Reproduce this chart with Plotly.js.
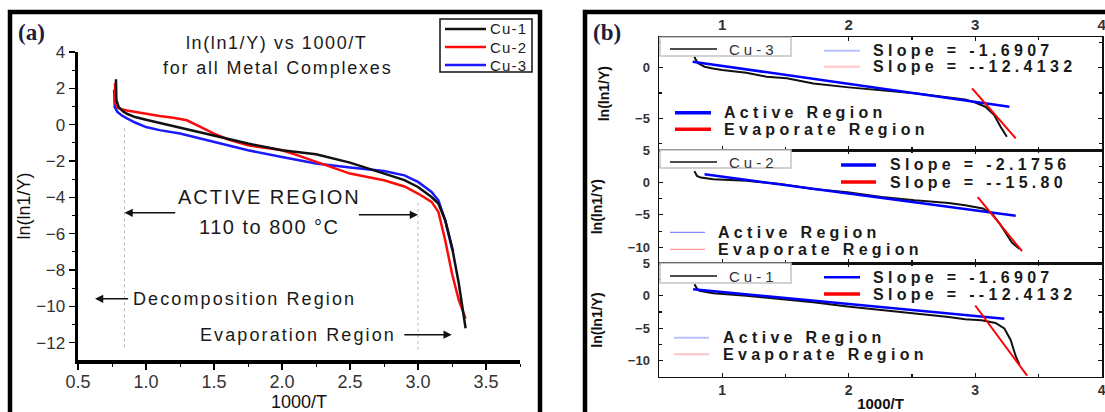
<!DOCTYPE html>
<html><head><meta charset="utf-8">
<script src="https://cdn.plot.ly/plotly-3.0.1.min.js"></script>
<style>html,body{margin:0;padding:0;background:#fff}#chart{width:1105px;height:412px}</style>
</head><body><div id="chart"></div>
<script>
// ---------- Panel (a): ln(ln1/Y) vs 1000/T ----------
const cu1X = [0.779,0.779,0.782,0.80,0.83,0.86,0.92,1.0,1.1,1.25,1.5,1.75,2.0,2.25,2.5,2.75,2.9,3.0,3.1,3.15,3.2,3.25,3.3,3.35];
const cu1Y = [2.5,1.9,1.36,0.95,0.74,0.6,0.42,0.27,0.1,-0.15,-0.59,-1.04,-1.41,-1.63,-2.09,-2.69,-3.05,-3.43,-3.98,-4.34,-5.26,-6.73,-8.74,-11.2];
const cu2X = [0.772,0.772,0.775,0.79,0.82,0.86,0.92,1.0,1.1,1.2,1.3,1.4,1.5,1.6,1.75,1.9,2.0,2.1,2.25,2.5,2.75,2.9,3.0,3.1,3.15,3.2,3.25,3.3,3.35];
const cu2Y = [2.3,1.8,1.17,0.95,0.85,0.78,0.7,0.6,0.48,0.38,0.24,-0.12,-0.49,-0.8,-1.14,-1.3,-1.41,-1.65,-2.05,-2.69,-3.06,-3.4,-3.79,-4.25,-4.8,-6.36,-8.19,-9.66,-10.67];
const cu3X = [0.766,0.766,0.77,0.79,0.82,0.86,0.92,1.0,1.1,1.25,1.5,1.75,2.0,2.25,2.5,2.75,2.9,3.0,3.1,3.15,3.2,3.25,3.26];
const cu3Y = [1.93,1.5,0.97,0.7,0.52,0.35,0.12,-0.13,-0.3,-0.49,-0.95,-1.41,-1.78,-2.14,-2.36,-2.55,-2.79,-3.15,-3.7,-4.16,-5.26,-6.82,-6.95];
const seriesNames = ['Cu-1','Cu-2','Cu-3'];
const regionLimits = [0.842, 3.0];   // dotted region boundaries (1000/T)

// ---------- Panel (b): fitted regions per complex ----------
const bCu3X = [0.78,0.79,0.81,0.86,0.925,1.0,1.19,1.35,1.51,1.72,2.0,2.26,2.52,2.79,2.92,3.0,3.08,3.15,3.2,3.25];
const bCu3Y = [1.09,0.8,0.43,0.1,-0.07,-0.23,-0.49,-0.89,-1.05,-1.55,-1.94,-2.2,-2.53,-2.93,-3.13,-3.45,-3.85,-4.67,-5.82,-6.81];
const bCu3ActX = [0.766,3.27], bCu3ActY = [0.59,-3.85];
const bCu3EvpX = [2.975,3.32], bCu3EvpY = [-2.04,-6.97];

const bCu2X = [0.78,0.80,0.83,0.93,1.19,1.46,1.72,1.99,2.26,2.52,2.79,2.92,3.06,3.13,3.19,3.24,3.29,3.35];
const bCu2Y = [1.75,1.0,0.75,0.5,0.25,-0.25,-1.0,-1.5,-2.25,-2.75,-3.15,-3.5,-4.0,-4.75,-6.25,-7.75,-9.25,-10.25];
const bCu2ActX = [0.86,3.32], bCu2ActY = [1.25,-5.15];
const bCu2EvpX = [3.02,3.37], bCu2EvpY = [-2.25,-10.6];

const bCu1X = [0.78,0.80,0.82,0.93,1.19,1.46,1.72,1.99,2.26,2.52,2.79,2.92,3.05,3.16,3.23,3.28,3.32,3.35];
const bCu1Y = [1.76,1.1,0.76,0.4,0.0,-0.5,-1.0,-1.66,-2.17,-2.67,-3.27,-3.63,-3.78,-4.18,-5.04,-6.8,-9.3,-10.6];
const bCu1ActX = [0.77,3.23], bCu1ActY = [1.0,-3.53];
const bCu1EvpX = [3.0,3.41], bCu1EvpY = [-1.5,-12.3];

const slopeTexts = {cu3:['Slope = -1.6907','Slope = --12.4132'], cu2:['Slope = -2.1756','Slope = --15.80'], cu1:['Slope = -1.6907','Slope = --12.4132']};

// ---------- helpers (pixel -> paper) ----------
const W = 1105, H = 412;
const px = v => v / W, py = v => 1 - v / H;
const SANS = 'Liberation Sans, Arial, sans-serif';
const ls = (t, s) => '<span style="letter-spacing:' + s + 'px">' + t + '</span>';

const traces = [
  {x: cu3X, y: cu3Y, name: seriesNames[2], mode: 'lines', line: {color: '#1a1aff', width: 2.5}, xaxis: 'x', yaxis: 'y', showlegend: false},
  {x: cu2X, y: cu2Y, name: seriesNames[1], mode: 'lines', line: {color: '#ff0a0a', width: 2.5}, xaxis: 'x', yaxis: 'y', showlegend: false},
  {x: cu1X, y: cu1Y, name: seriesNames[0], mode: 'lines', line: {color: '#111', width: 2.5}, xaxis: 'x', yaxis: 'y', showlegend: false},

  {x: bCu3X, y: bCu3Y, mode: 'lines', line: {color: '#111', width: 2}, xaxis: 'x2', yaxis: 'y2', showlegend: false},
  {x: bCu3ActX, y: bCu3ActY, mode: 'lines', line: {color: '#0000ff', width: 2.5}, xaxis: 'x2', yaxis: 'y2', showlegend: false},
  {x: bCu3EvpX, y: bCu3EvpY, mode: 'lines', line: {color: '#ff0000', width: 2}, xaxis: 'x2', yaxis: 'y2', showlegend: false},

  {x: bCu2X, y: bCu2Y, mode: 'lines', line: {color: '#111', width: 2}, xaxis: 'x3', yaxis: 'y3', showlegend: false},
  {x: bCu2ActX, y: bCu2ActY, mode: 'lines', line: {color: '#0000ff', width: 2.5}, xaxis: 'x3', yaxis: 'y3', showlegend: false},
  {x: bCu2EvpX, y: bCu2EvpY, mode: 'lines', line: {color: '#ff0000', width: 2}, xaxis: 'x3', yaxis: 'y3', showlegend: false},

  {x: bCu1X, y: bCu1Y, mode: 'lines', line: {color: '#111', width: 2}, xaxis: 'x4', yaxis: 'y4', showlegend: false},
  {x: bCu1ActX, y: bCu1ActY, mode: 'lines', line: {color: '#0000ff', width: 2.5}, xaxis: 'x4', yaxis: 'y4', showlegend: false},
  {x: bCu1EvpX, y: bCu1EvpY, mode: 'lines', line: {color: '#ff0000', width: 2}, xaxis: 'x4', yaxis: 'y4', showlegend: false}
];

const axA = {showgrid: false, zeroline: false, showline: true, linecolor: '#000', linewidth: 3.5,
  ticks: 'outside', tickcolor: '#000', tickwidth: 1.5, ticklen: 6};
const axB = {showgrid: false, zeroline: false, showline: true, linecolor: '#111', linewidth: 1.5, mirror: 'allticks',
  ticks: 'inside', tickcolor: '#111', tickwidth: 1.2, ticklen: 4};
const bxDomain = [px(659), px(1102)];
const bxRange = [0.5, 4.002];
const bTitle = {text: 'ln(ln1/Y)', font: {family: SANS, size: 14, color: '#111', weight: 'bold'}, standoff: 22};
const bYtick = {family: SANS, size: 13, color: '#333', weight: 'bold'};

const layout = {
  width: W, height: H, margin: {l: 0, r: 0, t: 0, b: 0}, paper_bgcolor: '#fff', plot_bgcolor: 'rgba(0,0,0,0)',
  showlegend: false, font: {family: SANS, color: '#222'},
  xaxis: Object.assign({}, axA, {domain: [px(78), px(520)], range: [0.5, 3.75], anchor: 'y', tick0: 0.5, dtick: 0.5, tickformat: '.1f',
    minor: {dtick: 0.25, ticks: 'outside', ticklen: 3, tickwidth: 1, tickcolor: '#000'}, ticklabelstandoff: -3,
    tickfont: {family: SANS, size: 18, color: '#333'}, title: {text: '1000/T', font: {family: SANS, size: 18, color: '#111'}, standoff: 9}}),
  yaxis: Object.assign({}, axA, {domain: [py(360), py(52)], range: [-12.95, 4], anchor: 'x', dtick: 2, tick0: 0,
    minor: {dtick: 1, ticks: 'outside', ticklen: 3, tickwidth: 1, tickcolor: '#000'},
    tickfont: {family: SANS, size: 17, color: '#333'}, title: {text: 'ln(ln1/Y)', font: {family: SANS, size: 18, color: '#111'}, standoff: 2}}),

  xaxis2: Object.assign({}, axB, {domain: bxDomain, range: bxRange, anchor: 'y2', side: 'top', dtick: 1, ticklabeloverflow: 'allow',
    minor: {dtick: 0.5, ticks: 'inside', ticklen: 3, tickcolor: '#111'},
    tickfont: {family: SANS, size: 15, color: '#333', weight: 'bold'}}),
  yaxis2: Object.assign({}, axB, {domain: [py(150), py(37.3)], range: [-8.12, 3], anchor: 'x2', dtick: 5, tick0: 0,
    minor: {dtick: 2.5, ticks: 'inside', ticklen: 3, tickcolor: '#111'}, ticklabelstandoff: 5,
    tickfont: bYtick, title: bTitle}),
  xaxis3: Object.assign({}, axB, {domain: bxDomain, range: bxRange, anchor: 'y3', dtick: 1, showticklabels: false,
    minor: {dtick: 0.5, ticks: 'inside', ticklen: 3, tickcolor: '#111'}}),
  yaxis3: Object.assign({}, axB, {domain: [py(263.3), py(150)], range: [-12.46, 5], anchor: 'x3', dtick: 5, tick0: 0,
    minor: {dtick: 2.5, ticks: 'inside', ticklen: 3, tickcolor: '#111'}, ticklabelstandoff: 5,
    tickfont: bYtick, title: bTitle}),
  xaxis4: Object.assign({}, axB, {domain: bxDomain, range: bxRange, anchor: 'y4', side: 'bottom', dtick: 1, ticklabeloverflow: 'allow',
    minor: {dtick: 0.5, ticks: 'inside', ticklen: 3, tickcolor: '#111'},
    tickfont: {family: SANS, size: 14, color: '#333', weight: 'bold'}, title: {text: '1000/T', font: {family: SANS, size: 15, color: '#111', weight: 'bold'}, standoff: 6}}),
  yaxis4: Object.assign({}, axB, {domain: [py(376.7), py(263.3)], range: [-12.46, 5], anchor: 'x4', dtick: 5, tick0: 0,
    minor: {dtick: 2.5, ticks: 'inside', ticklen: 3, tickcolor: '#111'}, ticklabelstandoff: 5,
    tickfont: bYtick, title: bTitle}),
  shapes: [],
  annotations: []
};

const S = layout.shapes, A = layout.annotations;
// outer panel frames
S.push({type: 'rect', xref: 'paper', yref: 'paper', x0: px(10), x1: px(540), y0: py(430), y1: py(12), line: {color: '#000', width: 4.5}});
S.push({type: 'rect', xref: 'paper', yref: 'paper', x0: px(585), x1: px(1125), y0: py(430), y1: py(12), line: {color: '#000', width: 4.5}});
// dotted region boundaries in panel (a)
S.push({type: 'line', xref: 'x', yref: 'y', x0: regionLimits[0], x1: regionLimits[0], y0: -0.2, y1: -12.3, line: {color: '#b8b8b8', width: 1, dash: 'dot'}});
S.push({type: 'line', xref: 'x', yref: 'y', x0: regionLimits[1], x1: regionLimits[1], y0: -4.3, y1: -12.4, line: {color: '#b8b8b8', width: 1, dash: 'dot'}});
// panel (a) legend
S.push({type: 'rect', xref: 'paper', yref: 'paper', x0: px(440), x1: px(532), y0: py(72), y1: py(19), line: {color: '#111', width: 1.5}, fillcolor: '#fff'});
const legCol = ['#111', '#ff0a0a', '#1a1aff'];
[29, 47, 65].forEach((yy, i) => {
  S.push({type: 'line', xref: 'paper', yref: 'paper', x0: px(445), x1: px(486), y0: py(yy), y1: py(yy), line: {color: legCol[i], width: 2.5}});
  A.push({xref: 'paper', yref: 'paper', x: px(488), y: py(yy), xanchor: 'left', yanchor: 'middle', showarrow: false,
    text: ls(seriesNames[i], 1.2), font: {family: SANS, size: 15, color: '#222'}});
});

function txt(text, cx, cy, size, opts) {
  A.push(Object.assign({xref: 'paper', yref: 'paper', x: px(cx), y: py(cy), xanchor: 'center', yanchor: 'middle', showarrow: false,
    text: text, font: {family: SANS, size: size, color: '#1a1a1a'}}, opts || {}));
}
txt('(a)', 31, 33, 23, {font: {family: 'Liberation Serif, Times New Roman, serif', size: 23, color: '#1d1d3d', weight: 'bold'}});
txt('(b)', 607, 33, 23, {font: {family: 'Liberation Serif, Times New Roman, serif', size: 23, color: '#1d1d3d', weight: 'bold'}});
txt(ls('ln(ln1/Y) vs 1000/T', 1.6), 276, 43, 18);
txt(ls('for all Metal Complexes', 1.8), 277, 68, 18);
txt(ls('ACTIVE REGION', 2), 269, 197, 20);
txt(ls('110 to 800 °C', 1.5), 269, 227, 20);
txt(ls('Decomposition Region', 2.1), 131, 299, 18, {xanchor: 'left'});
txt(ls('Evaporation Region', 2.1), 298, 335, 18);

function arrow(hx, hy, tx) {
  A.push({xref: 'x', yref: 'y', axref: 'x', ayref: 'y', x: hx, y: hy, ax: tx, ay: hy, text: '', showarrow: true,
    arrowhead: 2, arrowsize: 1.1, arrowwidth: 1.5, arrowcolor: '#111', standoff: 0, startstandoff: 0});
}
arrow(regionLimits[0], -4.85, 1.226);
arrow(regionLimits[1], -4.96, 2.554);
arrow(0.625, -9.58, 0.88);
arrow(3.248, -11.56, 2.888);

// panel (b) legends
function bLegend(label, top, bot, lineY, slopes, slopeX, slopeTxtX, sY, slopeStyle, regX, regTxtX, rY, regStyle) {
  S.push({type: 'rect', xref: 'paper', yref: 'paper', x0: px(660), x1: px(791), y0: py(bot), y1: py(top), line: {color: '#c4c4c4', width: 1.5}, fillcolor: '#fff', layer: 'above'});
  S.push({type: 'line', xref: 'paper', yref: 'paper', x0: px(670), x1: px(717), y0: py(lineY), y1: py(lineY), line: {color: '#111', width: 1.5}});
  txt(ls(label, 4), 753, lineY, 15, {font: {family: SANS, size: 15, color: '#333'}});
  for (let k = 0; k < 2; k++) {
    S.push({type: 'line', xref: 'paper', yref: 'paper', x0: px(slopeX[0]), x1: px(slopeX[1]), y0: py(sY[k]), y1: py(sY[k]), line: slopeStyle[k]});
    txt(ls(slopes[k], 4.3), slopeTxtX, sY[k], 16, {xanchor: 'left', font: {family: SANS, size: 16, color: '#1a1a1a', weight: 'bold'}});
    S.push({type: 'line', xref: 'paper', yref: 'paper', x0: px(regX[0]), x1: px(regX[1]), y0: py(rY[k]), y1: py(rY[k]), line: regStyle[k]});
    txt(ls(k === 0 ? 'Active Region' : 'Evaporate Region', 4.3), regTxtX, rY[k], 16, {xanchor: 'left', font: {family: SANS, size: 16, color: '#1a1a1a', weight: 'bold'}});
  }
}
const faintB = {color: '#b9c3ff', width: 2}, faintR = {color: '#ffc4c4', width: 2};
const strongB = {color: '#0000ff', width: 3.5}, strongR = {color: '#ff0000', width: 3.5};
bLegend('Cu-3', 37.3, 56, 49, slopeTexts.cu3, [824, 860], 871, [50.7, 66.7], [faintB, faintR], [675, 711], 722, [112.7, 129.3], [strongB, strongR]);
bLegend('Cu-2', 150, 168, 162, slopeTexts.cu2, [841, 876], 888, [165, 182], [strongB, strongR], [670, 705], 716, [232.3, 249.3], [{color: '#7f8cff', width: 1.3}, {color: '#ff9c9c', width: 1.3}]);
bLegend('Cu-1', 263.3, 283, 276, slopeTexts.cu1, [824, 860], 871, [277.3, 294], [{color: '#0000ff', width: 2.5}, strongR], [674, 709], 721, [337.7, 354.3], [faintB, faintR]);

Plotly.newPlot('chart', traces, layout, {staticPlot: true, displayModeBar: false});
</script></body></html>
